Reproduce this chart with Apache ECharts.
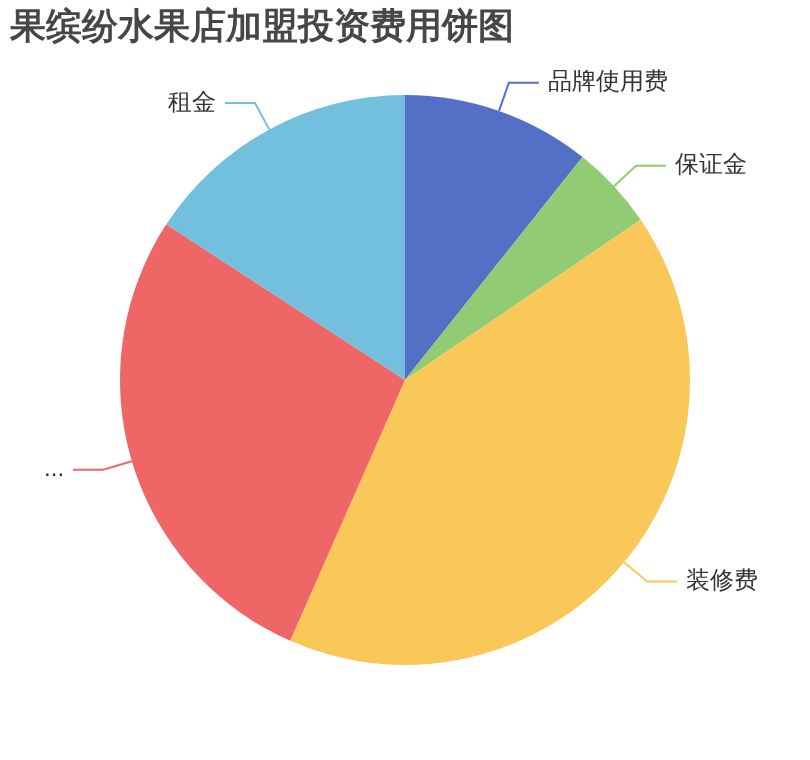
<!DOCTYPE html>
<html>
<head>
<meta charset="utf-8">
<script src="https://cdn.jsdelivr.net/npm/echarts@6/dist/echarts.min.js"></script>
<style>
html,body{margin:0;padding:0;background:#fff;}
#main{width:810px;height:760px;}
</style>
</head>
<body>
<div id="main"></div>
<script>
const titleText = '果缤纷水果店加盟投资费用饼图';
const categories = ['品牌使用费', '保证金', '装修费', '设备及首批进货费用', '租金'];
const values = [10.7, 4.8, 41.1, 27.6, 15.8];
const colors = ['#5470c6', '#91cc75', '#fac858', '#ee6666', '#73c0de'];

const chart = echarts.init(document.getElementById('main'));
chart.setOption({
  animation: false,
  color: colors,
  title: {
    text: titleText,
    left: 5,
    top: 5,
    textStyle: { fontSize: 36, fontWeight: 'bold', color: '#464646' }
  },
  series: [{
    type: 'pie',
    radius: '75%',
    center: ['50%', '50%'],
    label: { fontSize: 24, color: '#333', distanceToLabelLine: 9 },
    labelLine: { length: 30, length2: 30, lineStyle: { width: 2 } },
    data: categories.map((c, i) => {
      const d = { name: c, value: values[i] };
      if (i === 3) d.label = { width: 40, overflow: 'truncate' };
      return d;
    })
  }]
});
</script>
</body>
</html>
